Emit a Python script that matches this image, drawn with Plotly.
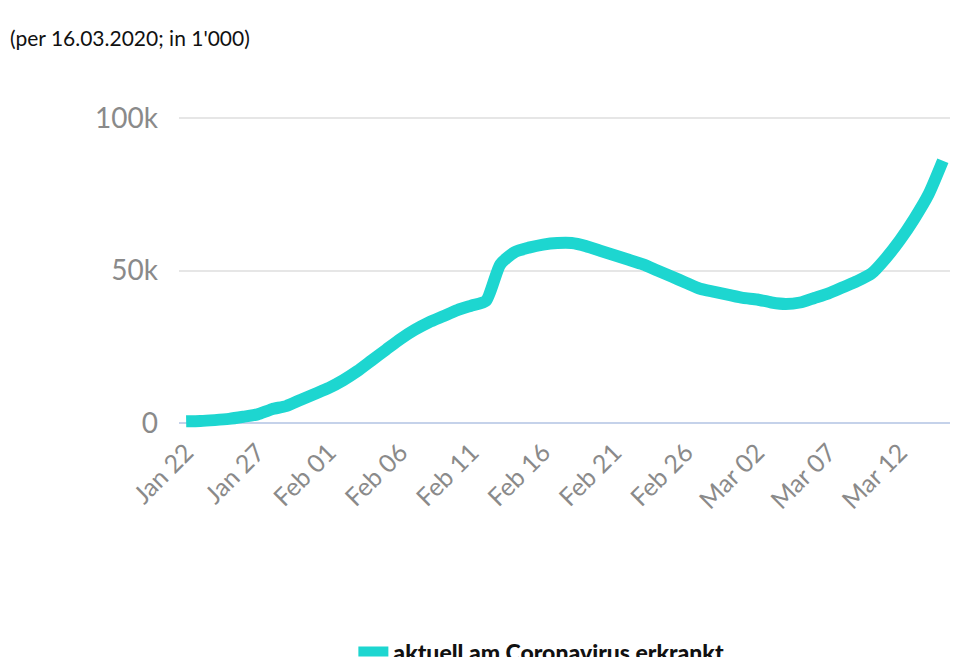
import plotly.graph_objects as go
import pandas as pd

### daily values, Jan 22 - Mar 15 2020 (in 1'000)
dates = pd.date_range("2020-01-22", "2020-03-15", freq="D")
active_k = [0.5, 0.6, 0.9, 1.3, 2.0, 2.8, 4.5, 5.5, 7.5, 9.5,
            11.5, 14, 17, 20.5, 24, 27.5, 30.5, 33, 35, 37, 38.5, 40, 52, 56, 57.5,
            58.5, 59, 59, 58, 56.5, 55, 53.5, 52, 50, 48, 46, 44, 43, 42,
            41, 40.5, 39.5, 39, 39.5, 41, 42.5, 44.5, 46.5, 49, 54, 60, 67, 75, 86]
active = [v * 1000 for v in active_k]
series_name = "aktuell am Coronavirus erkrankt"

fig = go.Figure(go.Scatter(
    x=dates, y=active, mode="lines", name=series_name,
    line=dict(color="#1dd6d0", width=12, shape="spline", smoothing=0.6),
    cliponaxis=False,
))

fig.update_layout(
    width=960, height=657,
    paper_bgcolor="white", plot_bgcolor="white",
    font=dict(family="Lato, sans-serif", color="#8a8a8a"),
    margin=dict(l=171, r=18, t=101, b=233, autoexpand=False),
    showlegend=True,
    legend=dict(orientation="h", x=0.47, xanchor="center", y=-0.68, yanchor="middle",
                font=dict(size=23, color="#111111", family="Lato Black, Lato, sans-serif"),
                itemwidth=30),
    annotations=[dict(text="(per 16.03.2020; in 1'000)", xref="paper", yref="paper",
                      x=-171/771, y=1 + 71/323, xanchor="left", yanchor="middle",
                      showarrow=False, font=dict(size=21, color="#111111"))],
)
fig.update_xaxes(
    range=["2020-01-21 12:00", "2020-03-15 12:00"],
    tick0="2020-01-22", dtick=5 * 86400000, tickformat="%b %d",
    tickangle=-45, tickfont=dict(size=25, color="#8a8a8a"), automargin=False,
    showgrid=False, showline=False, zeroline=False, ticks="",
)
fig.update_yaxes(
    range=[-3000, 103000], tickvals=[0, 50000, 100000], ticktext=["0", "50k", "100k"],
    tickfont=dict(size=28, color="#8a8a8a"), gridcolor="#e6e6e6", gridwidth=1.5,
    zeroline=True, zerolinecolor="#c5d2ea", zerolinewidth=2, ticklabelstandoff=20,
    automargin=False,
)

fig.write_html("out.html")
